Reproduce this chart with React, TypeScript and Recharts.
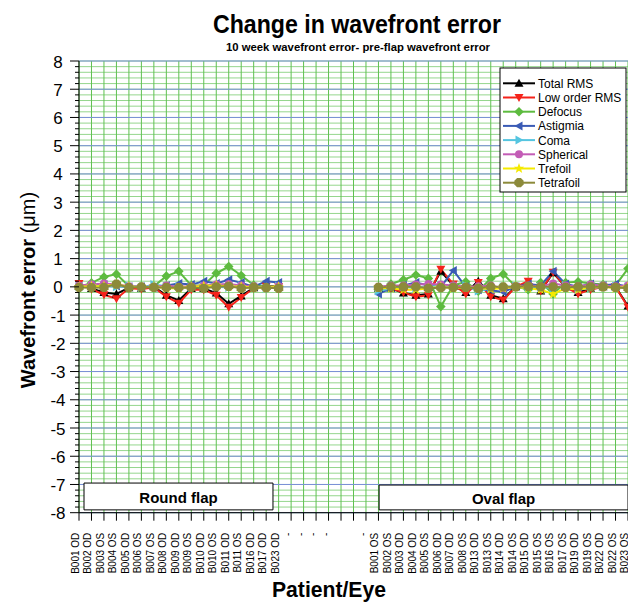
import React from 'react';
import { LineChart, Line, XAxis, YAxis, CartesianGrid, ReferenceArea } from 'recharts';

// tick labels (round flap eyes, empty slots, oval flap eyes)
const roundEyes = ['B001 OD', 'B002 OD', 'B003 OS', 'B004 OS', 'B005 OD', 'B006 OS', 'B007 OS', 'B008 OD', 'B009 OD', 'B009 OS', 'B010 OD', 'B010 OS', 'B011 OD', 'B011 OS', 'B016 OD', 'B017 OD', 'B023 OD'];
const gapLabels = ['-', '-', '-', '-', '', '', '-'];
const ovalEyes = ['B001 OS', 'B002 OS', 'B003 OD', 'B004 OD', 'B005 OS', 'B006 OD', 'B007 OD', 'B008 OS', 'B013 OD', 'B013 OS', 'B014 OD', 'B014 OS', 'B015 OD', 'B015 OS', 'B016 OS', 'B017 OS', 'B019 OD', 'B019 OS', 'B022 OD', 'B022 OS', 'B023 OS'];

const majorTicks = [8, 7, 6, 5, 4, 3, 2, 1, 0, -1, -2, -3, -4, -5, -6, -7, -8];
const minorSteps = [0.2, 0.4, 0.6, 0.8];

const _ = null;
// values in µm, round eyes | 7 empty slots | oval eyes
const totalRms = [0.1, -0.06, -0.2, -0.25, -0.03, -0.05, 0.0, -0.3, -0.48, -0.06, -0.06, -0.22, -0.6, -0.32, -0.03, 0.02, 0.0, _, _, _, _, _, _, _, -0.05, -0.05, -0.22, -0.3, -0.25, 0.55, 0.05, -0.2, 0.2, -0.3, -0.42, 0.0, 0.15, -0.15, 0.5, 0.0, -0.2, -0.05, 0.0, 0.0, -0.68];
const lowOrder = [0.12, -0.08, -0.28, -0.42, -0.05, -0.08, -0.02, -0.35, -0.58, -0.1, -0.1, -0.3, -0.72, -0.38, -0.05, 0.02, 0.0, _, _, _, _, _, _, _, -0.1, -0.05, -0.2, -0.35, -0.3, 0.62, 0.1, -0.25, 0.15, -0.35, -0.47, 0.0, 0.2, -0.15, 0.52, 0.0, -0.25, -0.1, 0.0, 0.0, -0.72];
const defocus = [0.0, 0.14, 0.35, 0.45, 0.02, 0.0, 0.02, 0.38, 0.55, 0.05, 0.06, 0.48, 0.72, 0.4, 0.06, 0.0, 0.02, _, _, _, _, _, _, _, -0.1, 0.1, 0.25, 0.42, 0.3, -0.7, 0.05, 0.18, -0.15, 0.3, 0.45, 0.02, -0.1, 0.15, -0.25, 0.15, 0.18, 0.12, 0.08, 0.05, 0.65];
const astigmia = [0.02, 0.05, 0.08, 0.03, 0.0, 0.0, -0.02, 0.05, 0.12, 0.08, 0.2, 0.12, 0.25, 0.15, 0.0, 0.2, 0.15, _, _, _, _, _, _, _, -0.25, -0.05, 0.05, 0.15, 0.05, 0.0, 0.58, 0.0, -0.1, -0.12, -0.18, 0.0, 0.1, 0.05, 0.55, 0.1, 0.0, 0.1, 0.05, 0.1, 0.0];
const coma = [0.02, 0.0, 0.05, 0.0, 0.03, -0.02, 0.08, 0.02, 0.0, -0.03, 0.02, 0.0, -0.02, 0.05, 0.0, -0.05, 0.02, _, _, _, _, _, _, _, -0.15, -0.05, 0.0, -0.05, 0.0, 0.05, 0.0, 0.05, -0.15, -0.05, 0.0, 0.02, -0.05, 0.0, -0.05, 0.05, -0.1, -0.05, 0.0, 0.02, 0.0];
const spherical = [0.05, 0.08, 0.12, 0.08, 0.02, 0.0, 0.0, 0.05, 0.0, 0.02, 0.05, 0.08, 0.1, 0.05, 0.02, -0.05, 0.02, _, _, _, _, _, _, _, 0.0, 0.05, 0.05, 0.08, 0.1, 0.08, 0.05, 0.0, 0.02, 0.05, -0.05, 0.02, 0.05, 0.02, 0.12, 0.05, 0.02, 0.08, 0.05, 0.02, 0.05];
const trefoil = [0.0, 0.02, 0.03, 0.08, 0.0, -0.02, 0.0, -0.05, -0.05, 0.0, 0.03, 0.05, 0.02, 0.0, -0.02, -0.03, 0.0, _, _, _, _, _, _, _, -0.05, -0.05, -0.1, -0.1, -0.05, 0.0, -0.05, -0.02, -0.05, -0.08, -0.05, 0.0, -0.05, -0.1, -0.25, -0.05, -0.1, -0.02, 0.0, -0.05, 0.0];
const tetrafoil = [-0.02, -0.03, -0.02, 0.1, -0.03, 0.0, -0.02, -0.02, -0.03, -0.02, -0.05, 0.0, 0.02, -0.05, -0.02, -0.03, -0.05, _, _, _, _, _, _, _, -0.02, 0.0, 0.0, 0.0, -0.05, -0.03, -0.02, -0.02, -0.05, 0.0, 0.0, 0.0, 0.02, 0.0, 0.0, -0.02, 0.0, 0.0, 0.0, -0.02, -0.05];

const FONT = '"Liberation Sans", Arial, sans-serif';

const gapKeys = gapLabels.map((_l, i) => `gap${i}`);
const categories = [...roundEyes, ...gapKeys, ...ovalEyes];
const tickText: Record<string, string> = {};
gapKeys.forEach((k, i) => (tickText[k] = gapLabels[i]));

const yTicks = majorTicks.flatMap((m) => (m > -8 ? [m, ...minorSteps.map((s) => +(m - s).toFixed(1))] : [m]));

const series = [
  { key: 'total', name: 'Total RMS', color: '#000000', shape: 'up', values: totalRms },
  { key: 'low', name: 'Low order RMS', color: '#f5231b', shape: 'down', values: lowOrder },
  { key: 'defocus', name: 'Defocus', color: '#5dbb3f', shape: 'diamond', values: defocus },
  { key: 'astig', name: 'Astigmia', color: '#3a5bb5', shape: 'left', values: astigmia },
  { key: 'coma', name: 'Coma', color: '#55c5e0', shape: 'right', values: coma },
  { key: 'sph', name: 'Spherical', color: '#c35cb6', shape: 'circle', values: spherical },
  { key: 'tref', name: 'Trefoil', color: '#f5ea00', shape: 'star', values: trefoil },
  { key: 'tetra', name: 'Tetrafoil', color: '#8c8a3a', shape: 'octagon', values: tetrafoil },
];

const data = categories.map((cat, i) => {
  const row: Record<string, string | number | null> = { cat, idx: i };
  series.forEach((s) => (row[s.key] = s.values[i]));
  return row;
});

const polygon = (n: number, r: number, cx: number, cy: number, rot = 0, inner?: number) => {
  const pts: string[] = [];
  const count = inner ? n * 2 : n;
  for (let k = 0; k < count; k++) {
    const a = rot + (k * Math.PI * 2) / count;
    const rr = inner && k % 2 === 1 ? inner : r;
    pts.push(`${cx + rr * Math.sin(a)},${cy - rr * Math.cos(a)}`);
  }
  return pts.join(' ');
};

const Marker = ({ shape, cx, cy, color }: { shape: string; cx: number; cy: number; color: string }) => {
  switch (shape) {
    case 'up':
      return <polygon points={`${cx},${cy - 4.5} ${cx + 4.5},${cy + 3.5} ${cx - 4.5},${cy + 3.5}`} fill={color} />;
    case 'down':
      return <polygon points={`${cx},${cy + 4.5} ${cx + 4.5},${cy - 3.5} ${cx - 4.5},${cy - 3.5}`} fill={color} />;
    case 'left':
      return <polygon points={`${cx - 4.5},${cy} ${cx + 3.5},${cy - 4.5} ${cx + 3.5},${cy + 4.5}`} fill={color} />;
    case 'right':
      return <polygon points={`${cx + 4.5},${cy} ${cx - 3.5},${cy - 4.5} ${cx - 3.5},${cy + 4.5}`} fill={color} />;
    case 'diamond':
      return <polygon points={polygon(4, 4.8, cx, cy)} fill={color} />;
    case 'star':
      return <polygon points={polygon(5, 5.5, cx, cy, 0, 2.3)} fill={color} />;
    case 'octagon':
      return <polygon points={polygon(8, 5, cx, cy, Math.PI / 8)} fill={color} />;
    default:
      return <circle cx={cx} cy={cy} r={4} fill={color} />;
  }
};

const XTick = (props: any) => {
  const { x, y, payload } = props;
  const label = payload.value in tickText ? tickText[payload.value] : payload.value;
  const tx = x - 3.5;
  return (
    <text
      x={tx}
      y={y + 10}
      transform={`rotate(-90 ${tx} ${y + 10})`}
      textAnchor="end"
      dominantBaseline="central"
      fontSize={10}
      fontFamily={FONT}
      fill="#000"
    >
      {label}
    </text>
  );
};

const YTick = (props: any) => {
  const { x, y, payload } = props;
  const v = payload.value;
  const major = Math.abs(v - Math.round(v)) < 1e-6;
  return (
    <g>
      <line x1={x - (major ? 9 : 4)} x2={x} y1={y} y2={y} stroke="#000" strokeWidth={1} />
      {major && (
        <text x={x - 21} y={y + 1} textAnchor="middle" dominantBaseline="central" fontSize={17} fontFamily={FONT} fill="#000">
          {Math.round(v)}
        </text>
      )}
    </g>
  );
};

const boxLabel = (text: string) => (p: any) => {
  const vb = p.viewBox;
  return (
    <text
      x={vb.x + vb.width / 2}
      y={vb.y + vb.height / 2 + 1}
      textAnchor="middle"
      dominantBaseline="central"
      fontSize={15}
      fontWeight="bold"
      fontFamily={FONT}
      fill="#000"
    >
      {text}
    </text>
  );
};

const LegendBox = () => (
  <g>
    <rect x={500} y={68} width={126} height={124} fill="#fff" stroke="#000" strokeWidth={1} />
    {series.map((s, i) => {
      const cy = 83.3 + i * 14.2;
      return (
        <g key={s.key}>
          <line x1={503} x2={535} y1={cy} y2={cy} stroke={s.color} strokeWidth={2} />
          <Marker shape={s.shape} cx={519} cy={cy} color={s.color} />
          <text x={538} y={cy + 0.5} dominantBaseline="central" fontSize={12} fontFamily={FONT} fill="#000">
            {s.name}
          </text>
        </g>
      );
    })}
  </g>
);

export default function App() {
  return (
    <div style={{ position: 'absolute', left: 0, top: 0, width: 628, height: 602, background: '#fff' }}>
      <LineChart width={628} height={602} data={data} margin={{ top: 61, right: 0, bottom: 0, left: 0 }}>
        <CartesianGrid stroke="#95d68d" vertical={false} />
        <CartesianGrid stroke="#5fc150" horizontal={false} />
        <CartesianGrid stroke="#7b8fd8" vertical={false} horizontalValues={majorTicks} />
        <XAxis
          dataKey="cat"
          interval={0}
          height={89.3}
          tickSize={8}
          tick={<XTick />}
          axisLine={{ stroke: '#000' }}
          tickLine={{ stroke: '#000' }}
        />
        <XAxis xAxisId="box" dataKey="idx" type="number" domain={[-0.5, 44.5]} hide allowDataOverflow />
        <YAxis
          type="number"
          domain={[-8, 8]}
          ticks={yTicks}
          interval={0}
          width={79}
          tickSize={0}
          tickMargin={0}
          tickLine={false}
          tick={<YTick />}
          axisLine={{ stroke: '#000' }}
          allowDataOverflow
        />
        <ReferenceArea
          xAxisId="box"
          x1={-0.09}
          x2={15.4}
          y1={-7.9}
          y2={-6.95}
          fill="#fff"
          fillOpacity={1}
          stroke="#000"
          strokeWidth={1}
          ifOverflow="visible"
          label={boxLabel('Round flap')}
        />
        <ReferenceArea
          xAxisId="box"
          x1={24.1}
          x2={44.5}
          y1={-7.9}
          y2={-7.02}
          fill="#fff"
          fillOpacity={1}
          stroke="#000"
          strokeWidth={1}
          ifOverflow="visible"
          label={boxLabel('Oval flap')}
        />
        {series.map((s) => (
          <Line
            key={s.key}
            dataKey={s.key}
            name={s.name}
            type="linear"
            stroke={s.color}
            strokeWidth={2}
            isAnimationActive={false}
            activeDot={false}
            dot={(p: any) =>
              p.cy == null || p.value == null || isNaN(p.cy) ? (
                <g key={`${s.key}-${p.index}`} />
              ) : (
                <Marker key={`${s.key}-${p.index}`} shape={s.shape} cx={p.cx} cy={p.cy} color={s.color} />
              )
            }
          />
        ))}
        <LegendBox />
        <text x={357} y={33} textAnchor="middle" fontSize={25} fontWeight="bold" fontFamily={FONT} textLength={288} lengthAdjust="spacingAndGlyphs">
          Change in wavefront error
        </text>
        <text x={358} y={51} textAnchor="middle" fontSize={11} fontWeight="bold" fontFamily={FONT} textLength={264} lengthAdjust="spacingAndGlyphs">
          10 week wavefront error- pre-flap wavefront error
        </text>
        <text x={329} y={597} textAnchor="middle" fontSize={22} fontWeight="bold" fontFamily={FONT} textLength={114} lengthAdjust="spacingAndGlyphs">
          Patient/Eye
        </text>
        <text x={28} y={290} transform="rotate(-90 28 290)" textAnchor="middle" dominantBaseline="central" fontSize={20} fontWeight="bold" fontFamily={FONT}>
          Wavefront error <tspan fontWeight="normal">(μm)</tspan>
        </text>
      </LineChart>
    </div>
  );
}
